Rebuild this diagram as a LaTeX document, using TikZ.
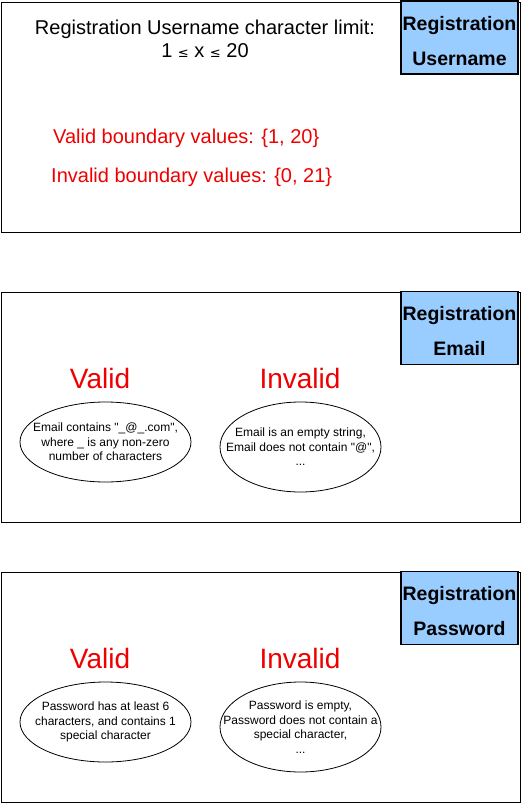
\documentclass[tikz,border=0pt]{standalone}
\usepackage{fontspec}
\setmainfont{Liberation Sans}
\newfontfamily\symfont{DejaVu Sans}
\usetikzlibrary{positioning,shapes.geometric}
\definecolor{tagblue}{HTML}{99CCFF}
\definecolor{eqred}{HTML}{EE0000}
\newcommand{\smallleq}{{\symfont\fontsize{13}{13}\selectfont ≤}}
\tikzset{
panel/.style={draw, line width=1.2pt, minimum width=519pt, minimum height=230pt, inner sep=0pt, anchor=north west},
tag/.style={draw, line width=1.2pt, fill=tagblue, minimum width=117pt, minimum height=73pt, inner sep=0pt},
tagtext/.style={align=center, inner sep=0pt, yshift=-3.5pt, font=\fontsize{19.5}{35}\selectfont\bfseries},
class/.style={text=eqred, inner sep=0pt, font=\fontsize{28}{32}\selectfont},
boundary/.style={text=eqred, anchor=west, inner sep=0pt, font=\fontsize{20}{24}\selectfont},
case/.style={draw, ellipse, line width=0.8pt, inner sep=0pt},
casetext/.style={align=center, inner sep=0pt, font=\fontsize{12}{14.5}\selectfont}
}

\begin{document}
\begin{tikzpicture}[x=1pt, y=-1pt]
   \useasboundingbox (0,0) rectangle (521,803);
   % username
   \node[panel] (userbox) at (1,2) {};
   \node[tag] (usertag) at (459.5,37.5) {};
   \node[tagtext] (usertagtext) at (usertag) {Registration\\Username};
   \node[align=center, inner sep=0pt, font=\fontsize{20}{23}\selectfont] (userlimit) at (205,38.5)
      {Registration Username character limit:\\1 \smallleq{} x \smallleq{} 20};
   \node[boundary] (userok) at (53,138) {Valid boundary values: \{1, 20\}};
   \node[boundary] (userbad) at (51,177) {Invalid boundary values: \{0, 21\}};
   % email
   \node[panel] (mailbox) at (1,292) {};
   \node[tag] (mailtag) at (459.5,328) {};
   \node[tagtext] (mailtagtext) at (mailtag) {Registration\\Email};
   \node[class] (mailvalid) at (100,378) {Valid};
   \node[class] (mailinvalid) at (300,378) {Invalid};
   \node[case, minimum width=171pt, minimum height=80pt] (mailok) at (105.5,442) {};
   \node[casetext] (mailoktext) at (mailok) {Email contains \textquotedbl\_@\_.com\textquotedbl,\\where \_ is any non-zero\\number of characters};
   \node[case, minimum width=161pt, minimum height=90pt] (mailbad) at (300.5,447) {};
   \node[casetext] (mailbadtext) at (mailbad) {Email is an empty string,\\Email does not contain \textquotedbl@\textquotedbl,\\...};
   % password
   \node[panel] (passbox) at (1,572) {};
   \node[tag] (passtag) at (459.5,608) {};
   \node[tagtext] (passtagtext) at (passtag) {Registration\\Password};
   \node[class] (passvalid) at (100,658) {Valid};
   \node[class] (passinvalid) at (300,658) {Invalid};
   \node[case, minimum width=171pt, minimum height=80pt] (passok) at (105.5,722) {};
   \node[casetext] (passoktext) at (passok) {Password has at least 6\\characters, and contains 1\\special character};
   \node[case, minimum width=161pt, minimum height=90pt] (passbad) at (300.5,727) {};
   \node[casetext] (passbadtext) at (passbad) {Password is empty,\\Password does not contain a\\special character,\\...};
\end{tikzpicture}
\end{document}
